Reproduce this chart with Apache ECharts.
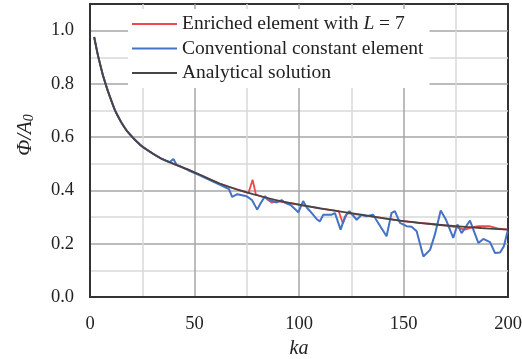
<!DOCTYPE html>
<html>
<head>
<meta charset="utf-8">
<script src="https://cdn.jsdelivr.net/npm/echarts@6/dist/echarts.min.js"></script>
<style>
  html, body { margin: 0; padding: 0; background: #fff; }
  #chart { width: 522px; height: 359px; }
</style>
</head>
<body>
<div id="chart"></div>
<script>
// analytical solution
const exactKa = [2, 3.8, 6.2, 8.6, 12, 15, 17.5, 20.5, 24.5, 28.7, 34, 40, 47, 52, 62, 71.8, 80, 89, 96, 110, 124, 137, 150, 162, 175, 187, 200];
const exactVal = [0.976, 0.907, 0.832, 0.772, 0.70, 0.655, 0.625, 0.598, 0.568, 0.545, 0.52, 0.50, 0.478, 0.461, 0.426, 0.40, 0.382, 0.364, 0.352, 0.333, 0.316, 0.30, 0.285, 0.275, 0.266, 0.259, 0.253];

// conventional constant element
const convKa = [2, 3.8, 6.2, 8.6, 12, 15, 17.5, 20.5, 24.5, 28.7, 34, 38, 39.9, 41.5, 47, 52, 62, 66.5, 68, 70.5, 75, 77.5, 80, 81.5, 83.7, 85.3, 89.3, 91.7, 93.3, 96, 99.7, 102, 103.7, 105.3, 108.5, 110, 111.6, 115.6, 117.2, 119.9, 122, 124.1, 127.6, 130, 132.3, 135.5, 137.9, 141.9, 144.3, 145.9, 148.3, 151.5, 153.9, 156.3, 159.5, 162.7, 165, 167.8, 170.2, 173.8, 175.8, 177.8, 181.8, 185.8, 188.2, 191.4, 193.8, 196.2, 198, 199.8];
const convVal = [0.976, 0.907, 0.832, 0.772, 0.70, 0.655, 0.625, 0.598, 0.568, 0.545, 0.52, 0.506, 0.518, 0.496, 0.476, 0.459, 0.422, 0.405, 0.376, 0.386, 0.378, 0.364, 0.328, 0.350, 0.378, 0.366, 0.355, 0.364, 0.354, 0.345, 0.318, 0.360, 0.336, 0.322, 0.292, 0.284, 0.309, 0.309, 0.315, 0.253, 0.302, 0.322, 0.290, 0.309, 0.303, 0.309, 0.278, 0.228, 0.316, 0.322, 0.278, 0.266, 0.264, 0.247, 0.152, 0.177, 0.234, 0.325, 0.292, 0.222, 0.272, 0.240, 0.287, 0.203, 0.218, 0.206, 0.165, 0.167, 0.19, 0.247];

// enriched element, L = 7
const enrKa = [2, 3.8, 6.2, 8.6, 12, 15, 17.5, 20.5, 24.5, 28.7, 34, 40, 47, 52, 62, 71.8, 75.8, 77.8, 79.4, 84, 87, 89.5, 96, 110, 119, 121, 123, 137, 150, 162, 170, 175, 179.4, 183, 186, 191, 195, 200];
const enrVal = [0.976, 0.907, 0.832, 0.772, 0.70, 0.655, 0.625, 0.598, 0.568, 0.545, 0.52, 0.50, 0.478, 0.461, 0.426, 0.40, 0.39, 0.44, 0.384, 0.372, 0.354, 0.36, 0.352, 0.333, 0.322, 0.276, 0.315, 0.30, 0.285, 0.275, 0.268, 0.262, 0.253, 0.262, 0.266, 0.266, 0.258, 0.253];

const xTicks = [0, 50, 100, 150, 200];
const yTicks = [0.0, 0.2, 0.4, 0.6, 0.8, 1.0];

const FONT = "Liberation Serif";
const MAJOR = "#a6a6a6";
const MINOR = "#d9d9d9";

function zip(xs, ys) {
  return xs.map((x, i) => [x, ys[i]]);
}

const chart = echarts.init(document.getElementById("chart"), null, { renderer: "canvas" });

chart.setOption({
  animation: false,
  backgroundColor: "#fff",
  grid: {
    left: 90,
    right: 14,
    top: 4,
    bottom: 62,
    outerBoundsMode: "none",
    containLabel: false,
    show: true,
    borderColor: "#333",
    borderWidth: 2,
  },
  legend: {
    orient: "vertical",
    left: 128,
    top: 9,
    padding: [4, 6, 4, 4],
    backgroundColor: "#fff",
    icon: "rect",
    itemWidth: 45,
    itemHeight: 2,
    itemGap: 2.5,
    data: ["enr", "conv", "exact"],
    formatter: (name) => {
      if (name === "enr") return "{n|Enriched element with }{i|L}{n| = 7}";
      if (name === "conv") return "{n|Conventional constant element}";
      return "{n|Analytical solution}";
    },
    textStyle: {
      fontFamily: FONT,
      fontSize: 19.5,
      lineHeight: 22,
      color: "#222",
      rich: {
        n: { fontFamily: FONT, fontSize: 19.5, lineHeight: 22, color: "#222" },
        i: { fontFamily: FONT, fontSize: 19.5, lineHeight: 22, color: "#222", fontStyle: "italic" },
      },
    },
  },
  xAxis: {
    type: "value",
    min: 0,
    max: 200,
    interval: 25,
    name: "ka",
    nameLocation: "middle",
    nameGap: 42,
    nameTextStyle: { fontFamily: FONT, fontSize: 20, fontStyle: "italic", color: "#222" },
    axisLine: { show: true, onZero: false, lineStyle: { color: "#333", width: 2 } },
    axisTick: { show: false },
    axisLabel: {
      margin: 18,
      fontFamily: FONT,
      fontSize: 18.5,
      color: "#222",
      formatter: (v) => (xTicks.includes(v) ? String(v) : ""),
    },
    splitLine: {
      show: true,
      showMinLine: false,
      showMaxLine: false,
      lineStyle: { color: [MINOR, MAJOR], width: 1.5 },
    },
  },
  yAxis: {
    type: "value",
    min: 0,
    max: 1.1,
    interval: 0.1,
    axisLine: { show: true, onZero: false, lineStyle: { color: "#333", width: 2 } },
    axisTick: { show: false },
    axisLabel: {
      margin: 16,
      fontFamily: FONT,
      fontSize: 18.5,
      color: "#222",
      formatter: (v) => {
        const hit = yTicks.find((t) => Math.abs(t - v) < 1e-6);
        return hit === undefined ? "" : hit.toFixed(1);
      },
    },
    splitLine: {
      show: true,
      showMinLine: false,
      showMaxLine: false,
      lineStyle: { color: [MINOR, MAJOR], width: 1.5 },
    },
  },
  graphic: [
    {
      type: "text",
      x: 25,
      y: 135,
      rotation: Math.PI / 2,
      style: {
        text: "{i|Φ/A}{s|0}",
        align: "center",
        verticalAlign: "middle",
        rich: {
          i: { fontFamily: FONT, fontSize: 21, fontStyle: "italic", fill: "#222" },
          s: { fontFamily: FONT, fontSize: 14, fontStyle: "italic", fill: "#222", verticalAlign: "bottom", padding: [9, 0, 0, 0] },
        },
      },
    },
  ],
  series: [
    {
      name: "enr",
      type: "line",
      symbol: "none",
      data: zip(enrKa, enrVal),
      lineStyle: { color: "#f0484a", width: 1.8 },
      itemStyle: { color: "#f0484a" },
      z: 2,
    },
    {
      name: "conv",
      type: "line",
      symbol: "none",
      data: zip(convKa, convVal),
      lineStyle: { color: "#4472c4", width: 2 },
      itemStyle: { color: "#4472c4" },
      z: 3,
    },
    {
      name: "exact",
      type: "line",
      symbol: "none",
      smooth: 0.4,
      data: zip(exactKa, exactVal),
      lineStyle: { color: "#454545", width: 1.8 },
      itemStyle: { color: "#454545" },
      z: 4,
    },
  ],
});
</script>
</body>
</html>
